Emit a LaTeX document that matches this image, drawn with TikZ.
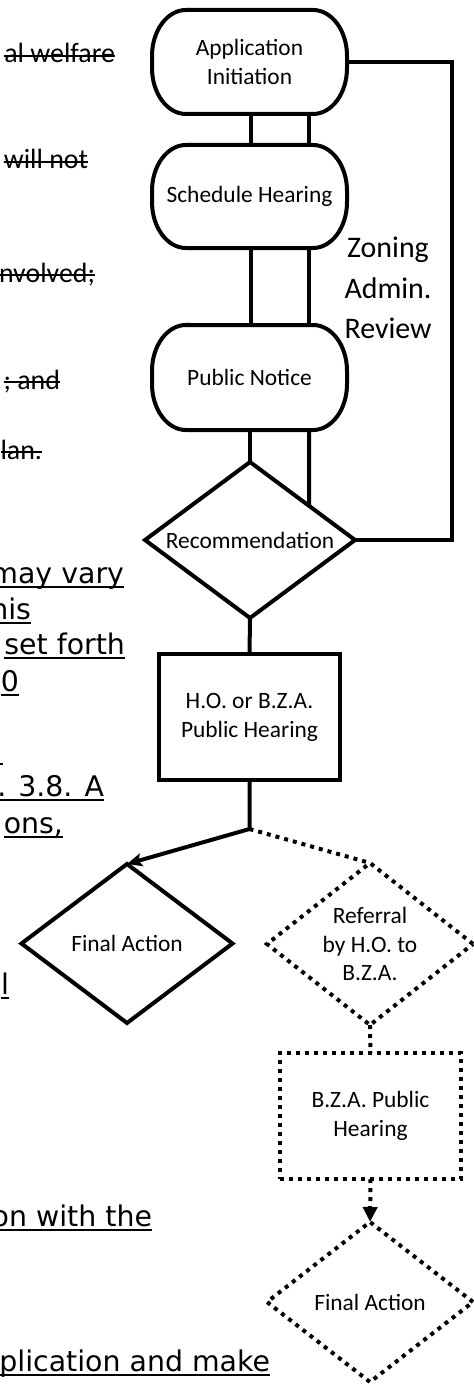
\documentclass[tikz,border=0pt]{standalone}
\usepackage{fontspec}
\setmainfont{Carlito}
\newfontfamily\docfont{DejaVu Sans}
\usetikzlibrary{shapes.geometric,arrows.meta,calc}
\newcommand\boxfont{\fontsize{23.5}{29}\selectfont}
\newcommand\reviewfont{\fontsize{30}{40.5}\selectfont}
\newcommand\struckfont{\fontsize{28}{34}\selectfont}
\newcommand\bodyfont{\docfont\fontsize{28.5}{35}\selectfont}
\begin{document}
\begin{tikzpicture}[x=1bp,y=-1bp,
  stroke/.style={line width=4bp},
  dots/.style={line width=4bp, dash pattern=on 4bp off 5bp},
  termnode/.style={rectangle, inner sep=0pt, outer sep=0pt, minimum width=195bp,
    minimum height=104bp, align=center, font=\boxfont},
  procbox/.style={rectangle, draw, inner sep=0pt, outer sep=0pt, minimum width=181bp,
    minimum height=126bp, align=center, font=\boxfont},
  decision/.style={diamond, draw, inner sep=0pt, outer sep=0pt, align=center, font=\boxfont},
  struck/.style={font=\struckfont, inner sep=0pt, outer sep=0pt, anchor=base east},
  body/.style={font=\bodyfont, inner sep=0pt, outer sep=0pt, anchor=base east},
  rule/.style={line width=2bp}
]
\useasboundingbox (0,0) rectangle (474,1385);
\clip (0,0) rectangle (474,1385);

% --- terminators with elliptic corners
\node[termnode] (app) at (249.5,62) {Application\\Initiation};
\node[termnode, minimum height=103bp] (sch) at (249.5,196.5) {Schedule Hearing};
\node[termnode, minimum height=105bp] (pn) at (249.5,377.5) {Public Notice};
\foreach \n in {app,sch,pn}{
  \draw[stroke] ($(\n.north west)+(34,0)$) -- ($(\n.north east)+(-34,0)$)
    arc[start angle=90,end angle=0,x radius=34bp,y radius=46bp]
    -- ($(\n.south east)+(0,-46)$)
    arc[start angle=0,end angle=-90,x radius=34bp,y radius=46bp]
    -- ($(\n.south west)+(34,0)$)
    arc[start angle=270,end angle=180,x radius=34bp,y radius=46bp]
    -- ($(\n.north west)+(0,46)$)
    arc[start angle=180,end angle=90,x radius=34bp,y radius=46bp]
    -- cycle;
}

% double links between the terminators
\draw[stroke] (251,0 |- app.south) -- (251,0 |- sch.north);
\draw[stroke] (309,0 |- app.south) -- (309,0 |- sch.north);
\draw[stroke] (251,0 |- sch.south) -- (251,0 |- pn.north);
\draw[stroke] (309,0 |- sch.south) -- (309,0 |- pn.north);

% recommendation
\node[decision, stroke, minimum width=210bp, minimum height=156bp, shape aspect=1.35]
  (rec) at (250,540) {Recommendation};
\draw[stroke] (rec.north |- pn.south) -- (rec.north);
\draw[stroke] (309,0 |- pn.south) -- (intersection of rec.north--rec.east and 309,0--309,1000);

% zoning administrator review loop
\draw[stroke] (app.east) -- (app.east -| 452,0) -- (rec.east -| 452,0) -- (rec.east);
\node[font=\reviewfont, align=center, inner sep=0pt] (zar) at (388,288) {Zoning\\Admin.\\Review};

% public hearing and final action
\node[procbox, stroke] (ho) at (249.5,717) {H.O. or B.Z.A.\\Public Hearing};
\draw[stroke] (rec.south) -- (ho.north);
\coordinate (j) at (ho.south |- 0,829);
\node[decision, stroke, minimum width=211bp, minimum height=159bp, shape aspect=1.33]
  (fa) at (127,943.5) {Final Action};
\draw[stroke, -{Stealth[length=15bp,width=13bp,inset=3bp]}] (ho.south) -- (j) -- (fa.north);

% referral branch (dotted)
\node[decision, dots, minimum width=206bp, minimum height=162bp, shape aspect=1.27]
  (ref) at (370,944) {Referral\\by H.O. to\\B.Z.A.};
\draw[dots] (j) -- (ref.north);
\node[procbox, dots] (bza) at (370.5,1116) {B.Z.A. Public\\Hearing};
\draw[dots] (ref.south) -- (bza.north);
\node[decision, dots, minimum width=206bp, minimum height=160bp, shape aspect=1.29]
  (fb) at (370,1302) {Final Action};
\draw[dots, -{Triangle[length=15bp,width=14bp]}] (bza.south) -- (fb.north);

% struck-out ordinance text
\node[struck] (s1) at (115,63) {al welfare};
\node[struck] (s2) at (88,169) {will not};
\node[struck] (s3) at (95,282) {nvolved;};
\node[struck] (s4) at (60,389) {; and};
\node[struck] (s5) at (42,459) {lan.};
\foreach \n in {s1,s2,s3,s4,s5}
  \draw[rule] ([yshift=7bp]\n.base west) -- ([yshift=7bp]\n.base east);

% underlined ordinance text
\node[body] (u1) at (124,583) {may vary};
\node[body] (u2) at (31,619) {his};
\node[body] (u3) at (125,654) {set forth};
\node[body] (u4) at (19,691) {0};
\node[body] (u5) at (104,796) {. 3.8. A};
\node[body] (u6) at (63,833) {ons,};
\node[body] (u7) at (9,994) {l};
\node[body] (u8) at (152,1226) {on with the};
\node[body] (u9) at (270,1371) {plication and make};
\foreach \n in {u1,u2,u3,u4,u5,u6,u7,u8,u9}
  \draw[rule] ([yshift=-4bp]\n.base west) -- ([yshift=-4bp]\n.base east);
\draw[rule] (0,764) -- (3,764);
\end{tikzpicture}
\end{document}
